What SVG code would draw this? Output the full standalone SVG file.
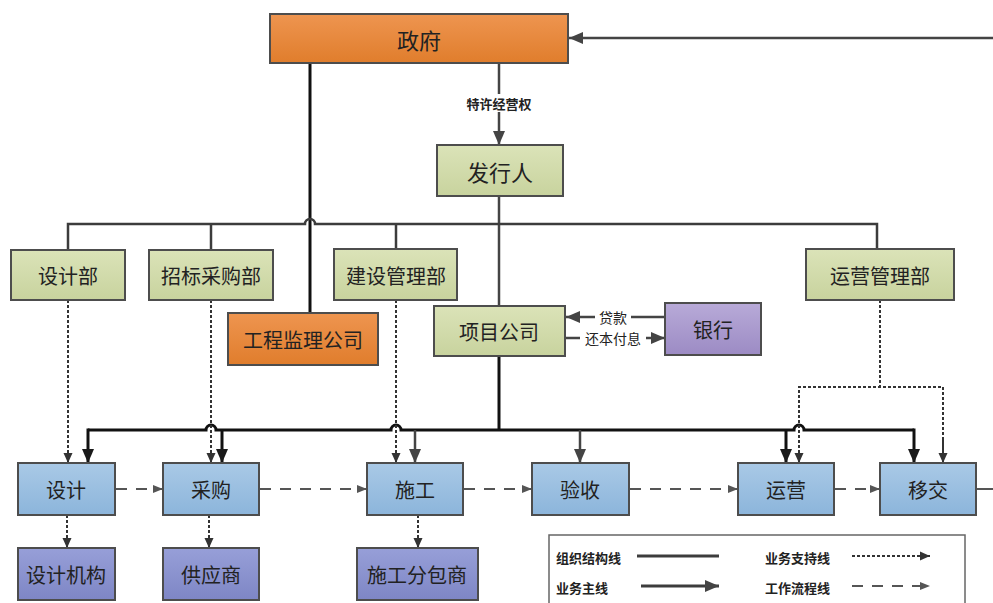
<svg xmlns="http://www.w3.org/2000/svg" width="993" height="603" viewBox="0 0 993 603">
<defs>
<linearGradient id="gOr" x1="0" y1="0" x2="0" y2="1"><stop offset="0" stop-color="#ee9550"/><stop offset="1" stop-color="#e07d2c"/></linearGradient>
<linearGradient id="gGr" x1="0" y1="0" x2="0" y2="1"><stop offset="0" stop-color="#dbe3b8"/><stop offset="1" stop-color="#c8d39e"/></linearGradient>
<linearGradient id="gBl" x1="0" y1="0" x2="0" y2="1"><stop offset="0" stop-color="#a9c9e6"/><stop offset="1" stop-color="#8cb5db"/></linearGradient>
<linearGradient id="gPu" x1="0" y1="0" x2="0" y2="1"><stop offset="0" stop-color="#b8aad8"/><stop offset="1" stop-color="#9c8bc4"/></linearGradient>
<linearGradient id="gIn" x1="0" y1="0" x2="0" y2="1"><stop offset="0" stop-color="#979fd8"/><stop offset="1" stop-color="#7e86c5"/></linearGradient>
<marker id="ah" markerUnits="userSpaceOnUse" markerWidth="14" markerHeight="14" viewBox="0 0 14 14" refX="14" refY="7" orient="auto"><path d="M0,1 L14,7 L0,13 z" fill="#1a1a1a"/></marker>
<marker id="ag" markerUnits="userSpaceOnUse" markerWidth="14" markerHeight="14" viewBox="0 0 14 14" refX="14" refY="7" orient="auto"><path d="M0,1 L14,7 L0,13 z" fill="#444"/></marker>
<marker id="ad" markerUnits="userSpaceOnUse" markerWidth="10" markerHeight="10" viewBox="0 0 10 10" refX="10" refY="5" orient="auto"><path d="M0,0.5 L10,5 L0,9.5 z" fill="#333"/></marker>
<marker id="af" markerUnits="userSpaceOnUse" markerWidth="10" markerHeight="10" viewBox="0 0 10 10" refX="10" refY="5" orient="auto"><path d="M0,1 L10,5 L0,9 z" fill="#555"/></marker>
</defs>
<style>
.box{stroke:#4d4d4d;stroke-width:2}
.t{font-family:"Noto Sans CJK SC","Noto Sans",sans-serif;fill:#222;text-anchor:middle;dominant-baseline:central}
.big{font-size:22px}
.mid{font-size:20px}
.sm{font-size:13px;font-weight:bold}
.lb{font-size:14px}
.org{fill:none;stroke:#3c3c3c;stroke-width:2.5}
.main{fill:none;stroke:#111;stroke-width:3}
.sup{fill:none;stroke:#333;stroke-width:2;stroke-dasharray:3,2}
.flow{fill:none;stroke:#555;stroke-width:2;stroke-dasharray:11,9}
.gray{fill:none;stroke:#444;stroke-width:2.5}
</style>
<rect width="993" height="603" fill="#fff"/>

<g id="connectors">
  <line x1="993" y1="38" x2="569" y2="38" class="gray" marker-end="url(#ag)"/>
  <line x1="499" y1="63" x2="499" y2="145" class="gray" marker-end="url(#ag)"/>
  <rect x="461" y="94" width="76" height="18" fill="#fff"/>
  <text x="499" y="103" class="t sm">特许经营权</text>
  <line x1="310" y1="63" x2="310" y2="313" class="main"/>
  <line x1="499" y1="196" x2="499" y2="306" class="gray"/>
  <path d="M68,250 V224 H305 A5,5 0 0 1 315,224 H877 V249" class="org"/>
  <line x1="211" y1="224" x2="211" y2="250" class="org"/>
  <line x1="396" y1="224" x2="396" y2="249" class="org"/>
  <line x1="665" y1="317" x2="566" y2="317" class="gray" marker-end="url(#ag)"/>
  <line x1="566" y1="338" x2="665" y2="338" class="gray" marker-end="url(#ag)"/>
  <rect x="595" y="307" width="36" height="20" fill="#fff"/>
  <text x="613" y="317" class="t lb">贷款</text>
  <rect x="580" y="328" width="66" height="20" fill="#fff"/>
  <text x="613" y="338" class="t lb">还本付息</text>
  <line x1="499" y1="356" x2="499" y2="430" class="main"/>
  <path d="M88,430 H206 A5,5 0 0 1 216,430 H391 A5,5 0 0 1 401,430 H794 A5,5 0 0 1 804,430 H914" class="main"/>
  <line x1="88" y1="428.5" x2="88" y2="463" class="main" marker-end="url(#ah)"/>
  <line x1="222" y1="430" x2="222" y2="463" class="main" marker-end="url(#ah)"/>
  <line x1="415" y1="430" x2="415" y2="463" class="gray" marker-end="url(#ag)"/>
  <line x1="580" y1="430" x2="580" y2="463" class="gray" marker-end="url(#ag)"/>
  <line x1="786" y1="430" x2="786" y2="463" class="main" marker-end="url(#ah)"/>
  <line x1="914" y1="428.5" x2="914" y2="463" class="main" marker-end="url(#ah)"/>
  <line x1="68" y1="300" x2="68" y2="463" class="sup" marker-end="url(#ad)"/>
  <line x1="211" y1="300" x2="211" y2="463" class="sup" marker-end="url(#ad)"/>
  <line x1="396" y1="300" x2="396" y2="463" class="sup" marker-end="url(#ad)"/>
  <path d="M880,300 V387" class="sup"/>
  <path d="M799,463 V387 H943 V463" class="sup"/>
  <line x1="799" y1="440" x2="799" y2="463" class="sup" marker-end="url(#ad)"/>
  <line x1="943" y1="440" x2="943" y2="463" class="sup" marker-end="url(#ad)"/>
  <line x1="67" y1="515" x2="67" y2="548" class="sup" marker-end="url(#ad)"/>
  <line x1="209" y1="515" x2="209" y2="548" class="sup" marker-end="url(#ad)"/>
  <line x1="418" y1="515" x2="418" y2="548" class="sup" marker-end="url(#ad)"/>
  <line x1="116" y1="489" x2="163" y2="489" class="flow" marker-end="url(#af)"/>
  <line x1="260" y1="489" x2="367" y2="489" class="flow" marker-end="url(#af)"/>
  <line x1="464" y1="489" x2="532" y2="489" class="flow" marker-end="url(#af)"/>
  <line x1="630" y1="489" x2="738" y2="489" class="flow" marker-end="url(#af)"/>
  <line x1="835" y1="489" x2="880" y2="489" class="flow" marker-end="url(#af)"/>
  <line x1="977" y1="489" x2="993" y2="489" stroke="#555" stroke-width="2"/>
</g>

<g id="n-gov"><rect x="270" y="14" width="298" height="49" fill="url(#gOr)" class="box"/><text x="419" y="39" class="t big">政府</text></g>
<g id="n-issuer"><rect x="437" y="145" width="126" height="51" fill="url(#gGr)" class="box"/><text x="500" y="171" class="t big">发行人</text></g>
<g id="n-design-dept"><rect x="11" y="250" width="114" height="50" fill="url(#gGr)" class="box"/><text x="68" y="275" class="t mid">设计部</text></g>
<g id="n-bid-dept"><rect x="149" y="250" width="124" height="50" fill="url(#gGr)" class="box"/><text x="211" y="275" class="t mid">招标采购部</text></g>
<g id="n-build-dept"><rect x="334" y="249" width="123" height="51" fill="url(#gGr)" class="box"/><text x="396" y="275" class="t mid">建设管理部</text></g>
<g id="n-ops-dept"><rect x="806" y="249" width="148" height="51" fill="url(#gGr)" class="box"/><text x="880" y="275" class="t mid">运营管理部</text></g>
<g id="n-supervision"><rect x="228" y="313" width="150" height="52" fill="url(#gOr)" class="box"/><text x="303" y="339" class="t mid">工程监理公司</text></g>
<g id="n-project"><rect x="434" y="306" width="131" height="50" fill="url(#gGr)" class="box"/><text x="499" y="331" class="t mid">项目公司</text></g>
<g id="n-bank"><rect x="665" y="303" width="96" height="52" fill="url(#gPu)" class="box"/><text x="713" y="329" class="t mid">银行</text></g>

<g id="n-design"><rect x="18" y="463" width="97" height="52" fill="url(#gBl)" class="box"/><text x="66" y="489" class="t mid">设计</text></g>
<g id="n-purchase"><rect x="163" y="463" width="96" height="52" fill="url(#gBl)" class="box"/><text x="211" y="489" class="t mid">采购</text></g>
<g id="n-construct"><rect x="367" y="463" width="96" height="52" fill="url(#gBl)" class="box"/><text x="415" y="489" class="t mid">施工</text></g>
<g id="n-accept"><rect x="532" y="463" width="97" height="52" fill="url(#gBl)" class="box"/><text x="580" y="489" class="t mid">验收</text></g>
<g id="n-operate"><rect x="738" y="463" width="96" height="52" fill="url(#gBl)" class="box"/><text x="786" y="489" class="t mid">运营</text></g>
<g id="n-transfer"><rect x="880" y="463" width="96" height="52" fill="url(#gBl)" class="box"/><text x="928" y="489" class="t mid">移交</text></g>

<g id="n-design-org"><rect x="18" y="548" width="97" height="52" fill="url(#gIn)" class="box"/><text x="66" y="574" class="t mid">设计机构</text></g>
<g id="n-supplier"><rect x="163" y="548" width="96" height="52" fill="url(#gIn)" class="box"/><text x="211" y="574" class="t mid">供应商</text></g>
<g id="n-subcontractor"><rect x="357" y="548" width="121" height="52" fill="url(#gIn)" class="box"/><text x="417" y="574" class="t mid">施工分包商</text></g>

<g id="legend">
  <rect x="549" y="535" width="416" height="80" fill="#fff" stroke="#666" stroke-width="1.5"/>
  <text x="556" y="557" class="t sm" style="text-anchor:start">组织结构线</text>
  <line x1="637" y1="556" x2="719" y2="556" stroke="#3c3c3c" stroke-width="3"/>
  <text x="765" y="557" class="t sm" style="text-anchor:start">业务支持线</text>
  <line x1="852" y1="556" x2="930" y2="556" class="sup" marker-end="url(#ad)"/>
  <text x="556" y="587" class="t sm" style="text-anchor:start">业务主线</text>
  <line x1="641" y1="586" x2="719" y2="586" stroke="#3c3c3c" stroke-width="3" marker-end="url(#ag)"/>
  <text x="765" y="587" class="t sm" style="text-anchor:start">工作流程线</text>
  <line x1="852" y1="586" x2="930" y2="586" class="flow" marker-end="url(#af)"/>
</g>
</svg>
